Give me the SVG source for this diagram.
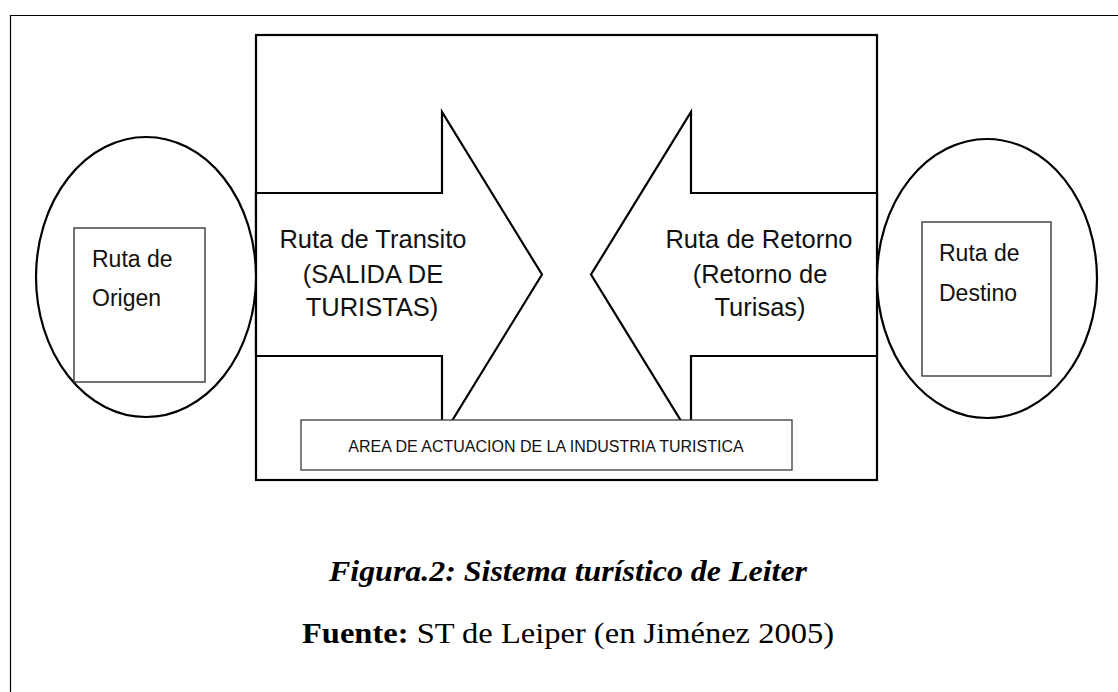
<svg xmlns="http://www.w3.org/2000/svg" width="1118" height="692" viewBox="0 0 1118 692">
<style>
  .thick { fill: #ffffff; stroke: #000000; stroke-width: 2.2; stroke-linejoin: miter; }
  .thin { fill: #ffffff; stroke: #3a3a3a; stroke-width: 1.4; }
  .lbl { font-family: "Liberation Sans", Arial, sans-serif; fill: #111111; }
  .big { font-size: 25.5px; text-anchor: middle; }
  .box { font-size: 23px; }
  .area { font-size: 16px; text-anchor: middle; }
  .cap { font-family: "Liberation Serif", "Times New Roman", serif; font-size: 29px; fill: #000000; text-anchor: middle; }
</style>
<rect x="0" y="0" width="1118" height="692" fill="#ffffff"/>
<g id="frame">
  <path d="M10.5 700 V15.5 H1130" fill="none" stroke="#000000" stroke-width="1.2"/>
</g>
<g id="system-area">
  <rect x="256" y="35" width="621" height="445" fill="#ffffff" stroke="#000000" stroke-width="2.2"/>
</g>
<g id="connectors">
  <g id="arrow-transit">
    <polygon class="thick" points="256,193 442,193 442,112 542,274.5 442,437 442,356 256,356"/>
    <text class="lbl big" x="373" y="248">Ruta de Transito</text>
    <text class="lbl big" x="373" y="283">(SALIDA DE</text>
    <text class="lbl big" x="372" y="316">TURISTAS)</text>
  </g>
  <g id="arrow-return">
    <polygon class="thick" points="877,193 691,193 691,112 591,274.5 691,437 691,356 877,356"/>
    <text class="lbl big" x="759" y="248">Ruta de Retorno</text>
    <text class="lbl big" x="760" y="283">(Retorno de</text>
    <text class="lbl big" x="760" y="316">Turisas)</text>
  </g>
</g>
<g id="origin">
  <ellipse class="thick" cx="146" cy="277" rx="110" ry="140"/>
  <rect class="thin" x="74" y="228" width="131" height="154"/>
  <text class="lbl box" x="92" y="267">Ruta de</text>
  <text class="lbl box" x="92" y="306">Origen</text>
</g>
<g id="destination">
  <ellipse class="thick" cx="987" cy="278.5" rx="110" ry="139.5"/>
  <rect class="thin" x="922" y="222" width="129" height="154"/>
  <text class="lbl box" x="939" y="261">Ruta de</text>
  <text class="lbl box" x="939" y="301">Destino</text>
</g>
<g id="industry-area">
  <rect x="301" y="420" width="491" height="50" fill="#ffffff" stroke="#3a3a3a" stroke-width="1.3"/>
  <text class="lbl area" x="546" y="452">AREA DE ACTUACION DE LA INDUSTRIA TURISTICA</text>
</g>
<g id="caption">
  <text class="cap" x="568" y="581" font-weight="bold" font-style="italic" textLength="478" lengthAdjust="spacingAndGlyphs">Figura.2: Sistema turístico de Leiter</text>
  <text class="cap" x="568" y="643" textLength="532" lengthAdjust="spacingAndGlyphs"><tspan font-weight="bold">Fuente:</tspan> ST de Leiper (en Jiménez 2005)</text>
</g>
</svg>
